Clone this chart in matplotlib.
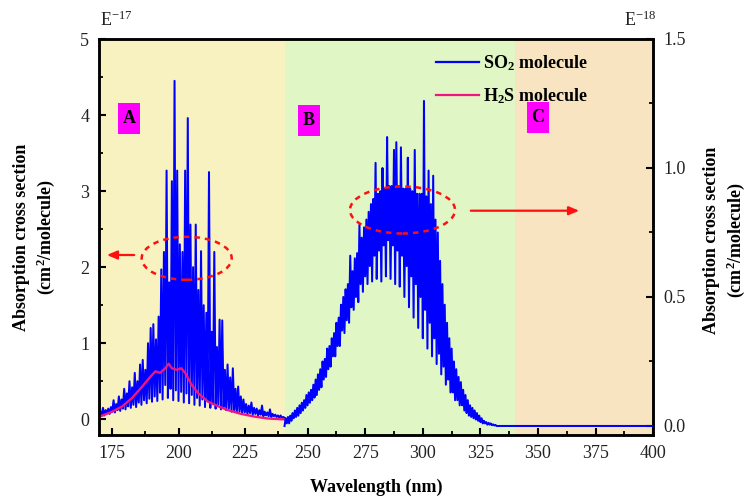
import numpy as np
import matplotlib
matplotlib.use("Agg")
import matplotlib.pyplot as plt
from matplotlib.patches import Ellipse, Rectangle
from matplotlib.lines import Line2D

plt.rcParams['font.family'] = ['Liberation Serif', 'DejaVu Serif']
plt.rcParams['mathtext.fontset'] = 'custom'
plt.rcParams['mathtext.rm'] = 'Liberation Serif'
plt.rcParams['mathtext.bf'] = 'Liberation Serif:bold'
plt.rcParams['mathtext.default'] = 'rm'

# ---------------- data ----------------
# SO2, region A (170-240 nm, 0.5 nm grid), left axis, units of 1e-17 cm^2/molecule
so2_a_start, so2_a_step = 170.0, 0.5
so2_a_vals = [
    0.05, 0.10, 0.06, 0.15, 0.05, 0.12, 0.08, 0.14, 0.07, 0.16,   # 170-174.5
    0.10, 0.25, 0.09, 0.20, 0.12, 0.30, 0.11, 0.26, 0.14, 0.40,   # 175-179.5
    0.13, 0.34, 0.17, 0.50, 0.15, 0.42, 0.19, 0.61, 0.16, 0.50,   # 180-184.5
    0.22, 0.72, 0.19, 0.78, 0.25, 0.65, 0.21, 1.00, 0.27, 1.20,   # 185-189.5
    0.23, 1.25, 0.30, 1.05, 0.24, 1.35, 0.35, 1.97, 0.26, 2.20,   # 190-194.5
    0.45, 3.27, 0.28, 1.80, 0.40, 3.13, 0.25, 4.45, 0.38, 3.27,   # 195-199.5
    0.24, 2.30, 0.36, 2.20, 0.22, 3.27, 0.34, 3.96, 0.21, 2.56,   # 200-204.5
    0.32, 2.00, 0.19, 2.56, 0.28, 1.70, 0.18, 2.21, 0.26, 1.50,   # 205-209.5
    0.16, 1.40, 0.24, 3.25, 0.15, 1.15, 0.21, 2.20, 0.14, 0.95,   # 210-214.5
    0.19, 1.31, 0.13, 1.30, 0.16, 0.65, 0.12, 0.72, 0.14, 0.55,   # 215-219.5
    0.10, 0.67, 0.12, 0.40, 0.09, 0.43, 0.10, 0.30, 0.08, 0.26,   # 220-224.5
    0.09, 0.20, 0.07, 0.18, 0.08, 0.22, 0.06, 0.15, 0.07, 0.14,   # 225-229.5
    0.05, 0.12, 0.06, 0.18, 0.04, 0.10, 0.05, 0.09, 0.04, 0.13,   # 230-234.5
    0.03, 0.07, 0.04, 0.06, 0.03, 0.05, 0.02, 0.05, 0.02, 0.03,   # 235-239.5
    0.02,                                                         # 240
]

# SO2, regions B/C (240-332 nm, 0.5 nm grid, then flat to 400), right axis, units of 1e-18
so2_b_start, so2_b_step = 240.0, 0.5
so2_b_vals = [
    0.00, 0.03, 0.01, 0.035, 0.01, 0.04, 0.02, 0.05, 0.03, 0.06,   # 240-244.5
    0.035, 0.07, 0.04, 0.08, 0.05, 0.09, 0.06, 0.10, 0.07, 0.12,   # 245-249.5
    0.08, 0.13, 0.09, 0.14, 0.10, 0.16, 0.11, 0.18, 0.12, 0.20,    # 250-254.5
    0.14, 0.22, 0.15, 0.25, 0.18, 0.26, 0.19, 0.30, 0.22, 0.31,    # 255-259.5
    0.23, 0.34, 0.27, 0.36, 0.27, 0.40, 0.31, 0.42, 0.31, 0.47,    # 260-264.5
    0.37, 0.50, 0.36, 0.53, 0.41, 0.55, 0.40, 0.66, 0.46, 0.60,    # 265-269.5
    0.45, 0.65, 0.50, 0.67, 0.48, 0.78, 0.55, 0.73, 0.52, 0.77,    # 270-274.5
    0.58, 0.80, 0.55, 0.83, 0.62, 0.86, 0.56, 0.88, 0.66, 1.02,    # 275-279.5
    0.57, 0.90, 0.68, 0.91, 0.56, 1.00, 0.70, 0.92, 0.58, 1.12,    # 280-284.5
    0.72, 0.93, 0.57, 0.93, 0.70, 1.07, 0.55, 1.10, 0.68, 0.93,    # 285-289.5
    0.54, 1.08, 0.66, 0.92, 0.50, 0.92, 0.62, 1.04, 0.46, 0.92,    # 290-294.5
    0.58, 0.91, 0.42, 1.07, 0.55, 0.90, 0.38, 0.90, 0.50, 0.90,    # 295-299.5
    0.34, 1.26, 0.45, 0.89, 0.30, 0.99, 0.40, 0.86, 0.27, 0.97,    # 300-304.5
    0.34, 0.80, 0.24, 0.75, 0.28, 0.64, 0.20, 0.55, 0.23, 0.47,    # 305-309.5
    0.16, 0.40, 0.18, 0.34, 0.13, 0.30, 0.13, 0.25, 0.10, 0.22,    # 310-314.5
    0.10, 0.19, 0.08, 0.17, 0.08, 0.14, 0.06, 0.12, 0.05, 0.10,    # 315-319.5
    0.04, 0.08, 0.035, 0.07, 0.03, 0.06, 0.025, 0.05, 0.02, 0.04,  # 320-324.5
    0.015, 0.03, 0.01, 0.02, 0.01, 0.015, 0.005, 0.012, 0.005, 0.01,  # 325-329.5
    0.003, 0.006, 0.002, 0.004, 0.0,                               # 330-332
]
so2_c_wl = [400.0]
so2_c_vals = [0.0]

# H2S, left axis, units of 1e-17
h2s_wl = [170.0, 170.6, 175.0, 178.8, 182.5, 186.3, 189.4, 191.3, 193.1, 195.0,
          196.3, 197.5, 199.4, 201.0, 202.5, 205.0, 207.5, 211.2, 215.0, 218.7,
          223.7, 228.7, 233.7, 238.8, 240.0]
h2s_vals = [0.03, 0.04, 0.10, 0.17, 0.28, 0.43, 0.56, 0.63, 0.61, 0.67,
            0.73, 0.67, 0.65, 0.67, 0.61, 0.45, 0.34, 0.23, 0.17, 0.12,
            0.07, 0.035, 0.01, 0.0, 0.0]

regions = [(170, 240), (240, 340), (340, 400)]
region_labels = ['A', 'B', 'C']
region_colors = ['#F7F2C0', '#E0F6C4', '#F8E4C0']

x_major = [175, 200, 225, 250, 275, 300, 325, 350, 375, 400]
x_minor = [187.5, 212.5, 237.5, 262.5, 287.5, 312.5, 337.5, 362.5, 387.5]
yl_major = [0, 1, 2, 3, 4, 5]
yl_minor = [0.5, 1.5, 2.5, 3.5, 4.5]
yr_major = [0.0, 0.5, 1.0, 1.5]
yr_minor = [0.25, 0.75, 1.25]

# ---------------- figure ----------------
W, H = 750, 497
fig = plt.figure(figsize=(7.5, 4.97), dpi=100)
L, R, T, B = 99, 653.3, 39, 435
ax = fig.add_axes([L / W, 1 - B / H, (R - L) / W, (B - T) / H])

K = 1.15
def fwd(x):
    x = np.asarray(x, dtype=float)
    return np.where(x <= 240, (x - 240) * K, x - 240)
def inv(u):
    u = np.asarray(u, dtype=float)
    return np.where(u <= 0, u / K + 240, u + 240)

ax.set_xscale('function', functions=(fwd, inv))
ax.set_xlim(170, 400)
ax.set_ylim(-0.207, 5.0)
ax2 = ax.twinx()
ax2.set_ylim(-0.035, 1.5)

for (a, b), c in zip(regions, region_colors):
    ax.axvspan(a, b, color=c, lw=0, zorder=0)

wa = so2_a_start + so2_a_step * np.arange(len(so2_a_vals))
wb = so2_b_start + so2_b_step * np.arange(len(so2_b_vals))
wb_full = np.concatenate([wb, so2_c_wl])
vb_full = np.concatenate([so2_b_vals, so2_c_vals])

blue = '#0000FF'
pink = '#F0157F'
ax.plot(wa, so2_a_vals, color=blue, lw=1.45, zorder=3)
ax.plot(h2s_wl, h2s_vals, color=pink, lw=1.7, zorder=4)
ax2.plot(wb_full, vb_full, color=blue, lw=1.45, zorder=3)

# ticks
ax.set_xticks(x_major)
ax.set_xticks(x_minor, minor=True)
ax.set_xticklabels([str(v) for v in x_major])
ax.set_yticks(yl_major)
ax.set_yticks(yl_minor, minor=True)
ax2.set_yticks(yr_major)
ax2.set_yticks(yr_minor, minor=True)
ax2.set_yticklabels(['%.1f' % v for v in yr_major])

tick_color = '#222222'
for a_ in (ax, ax2):
    a_.tick_params(which='major', direction='in', length=5, width=1.5, labelsize=13,
                   pad=7, labelcolor=tick_color)
    a_.tick_params(which='minor', direction='in', length=3, width=1.3)
    for s in a_.spines.values():
        s.set_linewidth(1.8)
ax.tick_params(axis='x', which='both', top=False)
ax2.tick_params(axis='x', which='both', top=False, bottom=False)

# labels
fig.text(35 / W, 1 - 237 / H, 'Absorption cross section\n(cm$^\\mathbf{2}$/molecule)',
         rotation=90, ha='center', va='center', multialignment='center',
         fontsize=13, fontweight='bold', linespacing=1.25)
fig.text(725 / W, 1 - 240 / H, 'Absorption cross section\n(cm$^\\mathbf{2}$/molecule)',
         rotation=90, ha='center', va='center', multialignment='center',
         fontsize=13, fontweight='bold', linespacing=1.25)
fig.text(376 / W, 1 - 487 / H, 'Wavelength (nm)', ha='center', va='center',
         fontsize=13, fontweight='bold')
fig.text(100 / W, 1 - 20 / H, 'E$^{\\mathrm{-17}}$', ha='left', va='center', fontsize=13,
         color=tick_color)
fig.text(624 / W, 1 - 20 / H, 'E$^{\\mathrm{-18}}$', ha='left', va='center', fontsize=13,
         color=tick_color)

# region boxes
box_px = [(118, 103), (298, 105), (527, 102)]
for (bx, by), lab in zip(box_px, region_labels):
    x0 = (bx - L) / (R - L)
    y0 = (B - (by + 31)) / (B - T)
    w = 22 / (R - L)
    h = 31 / (B - T)
    ax2.add_patch(Rectangle((x0, y0), w, h, transform=ax2.transAxes,
                            facecolor='#FF00FF', edgecolor='none', zorder=5))
    ax2.text(x0 + w / 2, y0 + h / 2, lab, transform=ax2.transAxes, ha='center',
             va='center', fontsize=13, fontweight='bold', zorder=6)

# ellipses and arrows
def axfx(px):
    return (px - L) / (R - L)
def axfy(py):
    return (B - py) / (B - T)

for cx, cy, ew, eh in [(186.7, 258.3, 90, 43), (402.5, 210, 105, 47)]:
    ax2.add_patch(Ellipse((axfx(cx), axfy(cy)), ew / (R - L), eh / (B - T),
                          transform=ax2.transAxes, fill=False, edgecolor='#FF1010',
                          lw=1.8, linestyle=(0, (2.2, 2.0)), zorder=6))

ax2.annotate('', xy=(axfx(104), axfy(255)), xytext=(axfx(137), axfy(255)),
             xycoords='axes fraction', textcoords='axes fraction',
             arrowprops=dict(arrowstyle='-|>,head_length=0.6,head_width=0.25',
                             color='#FF1010', lw=1.6), zorder=6)
ax2.annotate('', xy=(axfx(582), axfy(210.7)), xytext=(axfx(468), axfy(210.7)),
             xycoords='axes fraction', textcoords='axes fraction',
             arrowprops=dict(arrowstyle='-|>,head_length=0.6,head_width=0.25',
                             color='#FF1010', lw=1.6), zorder=6)

# legend
handles = [Line2D([], [], color=blue, lw=1.6), Line2D([], [], color=pink, lw=1.6)]
labels = ['SO$_\\mathbf{2}$ molecule', 'H$_\\mathbf{2}$S molecule']
leg = ax2.legend(handles, labels, loc='upper left',
                 bbox_to_anchor=(436 / W, 1 - 53 / H), bbox_transform=fig.transFigure,
                 frameon=False, prop={'size': 13, 'weight': 'bold'},
                 handlelength=2.4, handletextpad=0.2, labelspacing=0.78, borderpad=0,
                 borderaxespad=0)
leg.set_zorder(7)

fig.savefig('out.png', dpi=100)
